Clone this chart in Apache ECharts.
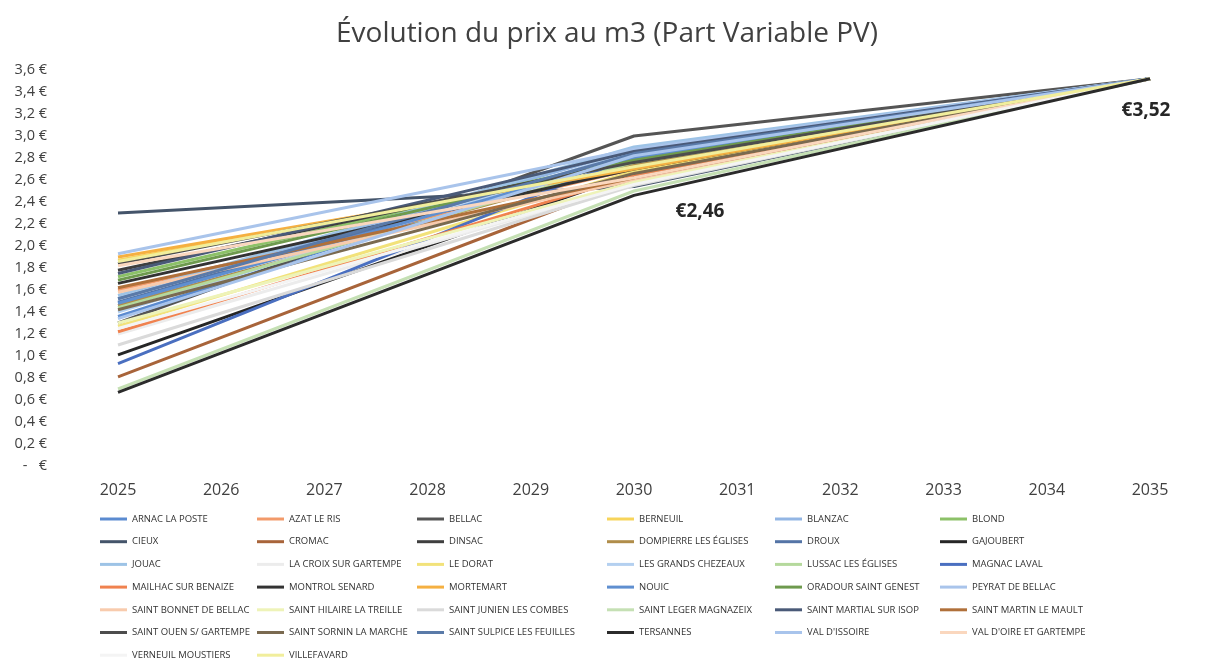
<!DOCTYPE html>
<html>
<head>
<meta charset="utf-8">
<title>Évolution du prix au m3</title>
<script src="https://cdn.jsdelivr.net/npm/echarts@6/dist/echarts.min.js"></script>
<style>
    html, body {margin: 0; padding: 0; background: #ffffff;}
    #prixChart {width: 1214px; height: 666px;}
</style>
</head>
<body>
<div id="prixChart"></div>
<script>
// données
var annees = ['2025', '2026', '2027', '2028', '2029', '2030', '2031', '2032', '2033', '2034', '2035'];

var communes = [
    'ARNAC LA POSTE', 'AZAT LE RIS', 'BELLAC', 'BERNEUIL', 'BLANZAC', 'BLOND',
    'CIEUX', 'CROMAC', 'DINSAC', 'DOMPIERRE LES ÉGLISES', 'DROUX', 'GAJOUBERT',
    'JOUAC', 'LA CROIX SUR GARTEMPE', 'LE DORAT', 'LES GRANDS CHEZEAUX', 'LUSSAC LES ÉGLISES', 'MAGNAC LAVAL',
    'MAILHAC SUR BENAIZE', 'MONTROL SENARD', 'MORTEMART', 'NOUIC', 'ORADOUR SAINT GENEST', 'PEYRAT DE BELLAC',
    'SAINT BONNET DE BELLAC', 'SAINT HILAIRE LA TREILLE', 'SAINT JUNIEN LES COMBES', 'SAINT LEGER MAGNAZEIX', 'SAINT MARTIAL SUR ISOP', 'SAINT MARTIN LE MAULT',
    'SAINT OUEN S/ GARTEMPE', 'SAINT SORNIN LA MARCHE', 'SAINT SULPICE LES FEUILLES', 'TERSANNES', "VAL D'ISSOIRE", "VAL D'OIRE ET GARTEMPE",
    'VERNEUIL MOUSTIERS', 'VILLEFAVARD'
];

var couleurs = [
    '#5b8bd0', '#f29a6a', '#555555', '#f7d45a', '#93b6e4', '#8cc168',
    '#44546a', '#a8643a', '#3f3f3f', '#b08d4a', '#5474a6', '#262626',
    '#9dc3e6', '#ececec', '#f2e27a', '#b4d0f0', '#b5d99c', '#4a6fc0',
    '#f0824f', '#333333', '#f5b041', '#5f8fd0', '#6e9a4e', '#a9c4eb',
    '#f8cbad', '#eef3b8', '#dadada', '#c5e0b4', '#4a5a78', '#b0703a',
    '#4d4d4d', '#7a6a50', '#5a7aa8', '#2b2b2b', '#a8c4ec', '#fad7be',
    '#f4f4f4', '#f1ee9c'
];

var prix2025 = [
    1.36, 1.60, 1.30, 1.87, 1.52, 1.72,
    2.30, 0.81, 1.78, 1.46, 1.49, 1.01,
    1.55, 1.20, 1.27, 1.40, 1.44, 0.93,
    1.22, 1.66, 1.90, 1.48, 1.69, 1.93,
    1.58, 1.30, 1.10, 0.70, 1.75, 1.62,
    1.84, 1.42, 1.52, 0.67, 1.34, 1.82,
    1.25, 1.86
];

var prix2030 = [
    2.86, 2.70, 3.00, 2.72, 2.88, 2.80,
    2.54, 2.60, 2.78, 2.74, 2.84, 2.66,
    2.90, 2.56, 2.68, 2.86, 2.76, 2.82,
    2.64, 2.70, 2.70, 2.80, 2.78, 2.88,
    2.60, 2.58, 2.55, 2.50, 2.86, 2.62,
    2.76, 2.66, 2.84, 2.46, 2.82, 2.62,
    2.56, 2.72
];

var prix2035 = [
    3.52, 3.52, 3.52, 3.52, 3.52, 3.52,
    3.52, 3.52, 3.52, 3.52, 3.52, 3.52,
    3.52, 3.52, 3.52, 3.52, 3.52, 3.52,
    3.52, 3.52, 3.52, 3.52, 3.52, 3.52,
    3.52, 3.52, 3.52, 3.52, 3.52, 3.52,
    3.52, 3.52, 3.52, 3.52, 3.52, 3.52,
    3.52, 3.52
];

var policeTexte = '"Open Sans", "Noto Sans", sans-serif';

PrixChart = {
    chart: null
};

PrixChart.formatEuro = function (v) {
    return '€' + v.toFixed(2).replace('.', ',');
};

PrixChart.etiquette = function (valeur, offset) {
    return {
        value: valeur,
        label: {
            show: true,
            position: 'inside',
            offset: offset,
            formatter: PrixChart.formatEuro(valeur),
            fontFamily: policeTexte,
            fontSize: 19,
            fontWeight: 'bold',
            color: '#262626'
        }
    };
};

PrixChart.buildSeries = function () {
    var series = [];
    var idxTersannes = communes.indexOf('TERSANNES');
    for (var i = 0; i < communes.length; i++) {
        // seules les années connues sont renseignées, la ligne relie les points
        var data = [prix2025[i], null, null, null, null, prix2030[i], null, null, null, null, prix2035[i]];
        if (i === idxTersannes) {
            data[5] = PrixChart.etiquette(prix2030[i], [66, 16]);
            data[10] = PrixChart.etiquette(prix2035[i], [-4, 32]);
        }
        series.push({
            name: communes[i],
            type: 'line',
            data: data,
            connectNulls: true,
            showSymbol: true,
            symbol: 'circle',
            symbolSize: 0,
            lineStyle: {width: 3, color: couleurs[i]},
            itemStyle: {color: couleurs[i]},
            emphasis: {disabled: true},
            z: i === idxTersannes ? 3 : 2
        });
    }
    return series;
};

PrixChart.buildLegends = function () {
    var colonnesX = [100, 257, 417, 607, 775, 940];
    var legends = [];
    for (var c = 0; c < colonnesX.length; c++) {
        legends.push({
            orient: 'vertical',
            left: colonnesX[c],
            top: 513,
            padding: 0,
            height: 153,
            icon: 'rect',
            itemWidth: 27,
            itemHeight: 3,
            itemGap: 10.7,
            textStyle: {
                fontFamily: policeTexte,
                fontSize: 9.5,
                lineHeight: 12,
                color: '#333333'
            },
            data: communes.filter(function (n, i) {
                return i % 6 === c;
            })
        });
    }
    return legends;
};

PrixChart.init = function () {
    PrixChart.chart = echarts.init(document.getElementById('prixChart'));
    option = {
        backgroundColor: '#ffffff',
        animation: false,
        title: {
            text: 'Évolution du prix au m3 (Part Variable PV)',
            left: 'center',
            top: 15,
            textStyle: {
                fontFamily: policeTexte,
                fontSize: 28,
                fontWeight: 'normal',
                color: '#404040'
            }
        },
        legend: PrixChart.buildLegends(),
        grid: {
            left: 118,
            right: 64,
            top: 70,
            bottom: 200
        },
        xAxis: {
            type: 'category',
            boundaryGap: false,
            data: annees,
            axisLine: {show: false},
            axisTick: {show: false},
            splitLine: {show: false},
            axisLabel: {
                margin: 16,
                fontFamily: policeTexte,
                fontSize: 16,
                color: '#404040'
            }
        },
        yAxis: {
            type: 'value',
            min: 0,
            max: 3.6,
            interval: 0.2,
            axisLine: {show: false},
            axisTick: {show: false},
            splitLine: {show: false},
            axisLabel: {
                margin: 71,
                fontFamily: policeTexte,
                fontSize: 14.5,
                color: '#404040',
                formatter: function (v) {
                    if (v === 0) {
                        return '-   €';
                    }
                    return v.toFixed(1).replace('.', ',') + ' €';
                }
            }
        },
        series: PrixChart.buildSeries()
    };
    PrixChart.chart.setOption(option);
};

PrixChart.init();
</script>
</body>
</html>
